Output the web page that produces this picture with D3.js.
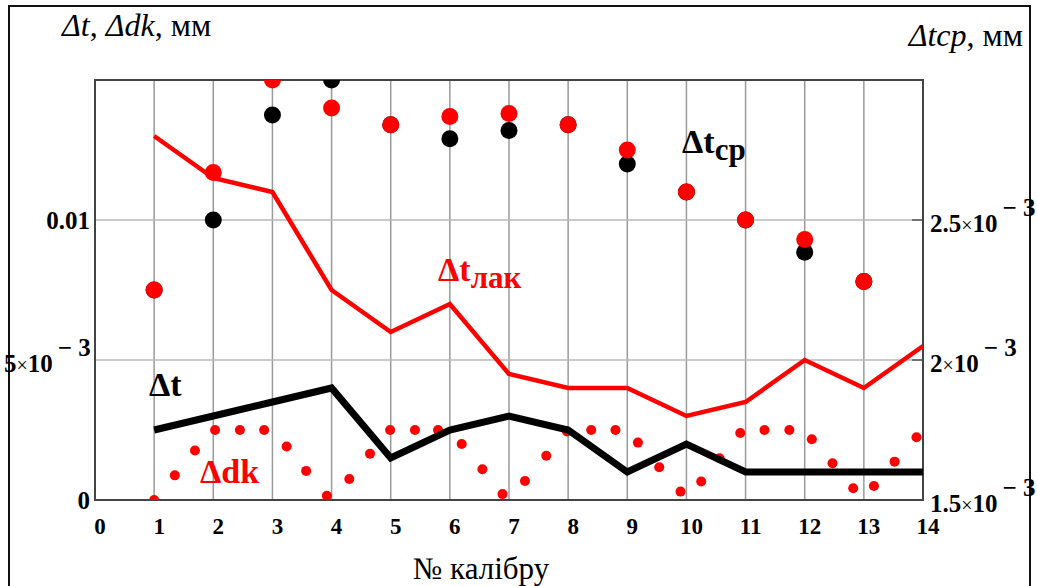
<!DOCTYPE html>
<html>
<head>
<meta charset="utf-8">
<script src="https://cdn.jsdelivr.net/npm/d3@7"></script>
<style>
  body { margin: 0; background: #fff; }
  svg text { font-family: 'Liberation Serif', 'DejaVu Serif', serif; }
</style>
</head>
<body>
<svg width="1037" height="586"></svg>
<script>
// calibre numbers
var calibres = [1, 2, 3, 4, 5, 6, 7, 8, 9, 10, 11, 12, 13, 14];

// left axis, mm
var dt = [0.0025, 0.003, 0.0035, 0.004, 0.0015, 0.0025, 0.003, 0.0025, 0.001, 0.002, 0.001, 0.001, 0.001, 0.001];
var dtLak = [0.013, 0.0115, 0.011, 0.0075, 0.006, 0.007, 0.0045, 0.004, 0.004, 0.003, 0.0035, 0.005, 0.004, 0.0055];

// dk points between calibres
var dkX = [1.0, 1.35, 1.69, 2.03, 2.45, 2.86, 3.24, 3.57, 3.92, 4.30, 4.65, 4.99, 5.41, 5.80, 6.20, 6.55, 6.89, 7.27,
  7.63, 7.98, 8.39, 8.80, 9.18, 9.54, 9.90, 10.25, 10.56, 10.91, 11.32, 11.74, 12.12, 12.47, 12.82, 13.17, 13.52, 13.89];
var dkVal = [0, 0.00088, 0.00177, 0.0025, 0.0025, 0.0025, 0.00191, 0.00104, 0.00015, 0.00075, 0.00165, 0.0025, 0.0025,
  0.0025, 0.002, 0.0011, 0.00021, 0.00068, 0.00158, 0.00245, 0.0025, 0.0025, 0.00205, 0.00117, 0.0003, 0.00066, 0.00149,
  0.00239, 0.0025, 0.0025, 0.00217, 0.00131, 0.00042, 0.0005, 0.00137, 0.00224];

// right axis, mm
var tcpBlack = [0.00225, 0.0025, 0.002875, 0.003, 0.00284, 0.00279, 0.00282, 0.00284, 0.0027, 0.0026, 0.0025, 0.002385, 0.00228, null];
var tcpRed = [0.00225, 0.00267, 0.003, 0.0029, 0.00284, 0.00287, 0.00288, 0.00284, 0.00275, 0.0026, 0.0025, 0.00243, 0.00228, null];

var xTicks = d3.range(0, 15);
var leftTicks = [0, 0.005, 0.01];
var rightTicks = [0.0015, 0.002, 0.0025];

var svg = d3.select('svg');

var plotL = 95, plotR = 923, plotT = 80, plotB = 500;

var x = d3.scaleLinear().domain([0, 14]).range([plotL, plotR]);
var yL = d3.scaleLinear().domain([0, 0.015]).range([plotB, plotT]);
var yR = d3.scaleLinear().domain([0.0015, 0.003]).range([plotB, plotT]);

// outer frame
svg.append('rect')
  .attr('x', 9).attr('y', 6)
  .attr('width', 1021).attr('height', 600)
  .attr('fill', 'none')
  .attr('stroke', '#111')
  .attr('stroke-width', 2);

svg.append('clipPath').attr('id', 'plot')
  .append('rect')
  .attr('x', plotL).attr('y', plotT)
  .attr('width', plotR - plotL).attr('height', plotB - plotT);

// grid
var grid = svg.append('g');
grid.selectAll('.vg')
  .data(xTicks.filter(function(d) { return d > 0 && d < 14; }))
  .enter().append('line')
  .attr('x1', function(d) { return x(d); })
  .attr('x2', function(d) { return x(d); })
  .attr('y1', plotT).attr('y2', plotB)
  .attr('stroke', '#9a9a9a')
  .attr('stroke-width', 1.5);

grid.selectAll('.hg')
  .data(leftTicks.filter(function(d) { return d > 0; }))
  .enter().append('line')
  .attr('x1', plotL).attr('x2', plotR)
  .attr('y1', function(d) { return yL(d); })
  .attr('y2', function(d) { return yL(d); })
  .attr('stroke', '#b8b8b8')
  .attr('stroke-width', 1.5);

// right axis inner ticks
grid.selectAll('.rt')
  .data(rightTicks.filter(function(d) { return d > 0.0015; }))
  .enter().append('line')
  .attr('x1', plotR - 11).attr('x2', plotR)
  .attr('y1', function(d) { return yR(d); })
  .attr('y2', function(d) { return yR(d); })
  .attr('stroke', '#555')
  .attr('stroke-width', 1.5);

svg.append('rect')
  .attr('x', plotL).attr('y', plotT)
  .attr('width', plotR - plotL).attr('height', plotB - plotT)
  .attr('fill', 'none')
  .attr('stroke', '#444')
  .attr('stroke-width', 2);

var marks = svg.append('g').attr('clip-path', 'url(#plot)');

// dk dots
marks.selectAll('.dk')
  .data(dkX)
  .enter().append('circle')
  .attr('cx', function(d) { return x(d); })
  .attr('cy', function(d, i) { return yL(dkVal[i]); })
  .attr('r', 5)
  .attr('fill', '#ff0000');

var line = d3.line()
  .x(function(d, i) { return x(calibres[i]); })
  .y(function(d) { return yL(d); });

marks.append('path')
  .attr('d', line(dtLak))
  .attr('fill', 'none')
  .attr('stroke', '#ff0000')
  .attr('stroke-width', 4.5);

marks.append('path')
  .attr('d', line(dt))
  .attr('fill', 'none')
  .attr('stroke', '#000')
  .attr('stroke-width', 7);

function bigDots(values, colour) {
  marks.append('g').selectAll('circle')
    .data(values)
    .enter().append('circle')
    .filter(function(d) { return d !== null; })
    .attr('cx', function(d, i) { return x(calibres[i]); })
    .attr('cy', function(d) { return yR(d); })
    .attr('r', 8.5)
    .attr('fill', colour);
}

bigDots(tcpBlack, '#000');
bigDots(tcpRed, '#ff0000');

// x tick labels
svg.selectAll('.xl')
  .data(xTicks)
  .enter().append('text')
  .attr('x', function(d) { return x(d) + 5; })
  .attr('y', 534)
  .attr('text-anchor', 'middle')
  .style('font-size', '23px')
  .style('font-weight', 'bold')
  .text(function(d) { return d; });

function sciLabel(g, mant) {
  g.style('font-size', '25px');
  g.append('tspan').style('font-weight', 'bold').text(mant);
  g.append('tspan').style('font-size', '20px').text('\u00d7');
  g.append('tspan').style('font-weight', 'bold').text('10');
  g.append('tspan').attr('dy', -16).style('font-weight', 'bold').text('\u2009\u2212 3');
}

// left labels
svg.selectAll('.yl')
  .data(leftTicks)
  .enter().append('text')
  .attr('x', 90)
  .attr('y', function(d) { return yL(d) + (d === 0.005 ? 12 : 9); })
  .attr('text-anchor', 'end')
  .style('font-size', '25px')
  .each(function(d) {
    var t = d3.select(this);
    if (d === 0.005) {
      t.attr('text-anchor', 'start').attr('x', 4);
      sciLabel(t, '5');
    } else {
      t.style('font-weight', 'bold').text(d === 0 ? '0' : '0.01');
    }
  });

// right labels
svg.selectAll('.yr')
  .data(rightTicks)
  .enter().append('text')
  .attr('x', 930)
  .attr('y', function(d) { return yR(d) + 12; })
  .each(function(d) {
    sciLabel(d3.select(this), d === 0.0015 ? '1.5' : d === 0.002 ? '2' : '2.5');
  });

// axis titles
var tl = svg.append('text')
  .attr('x', 62).attr('y', 36)
  .style('font-size', '32px');
tl.append('tspan').style('font-style', 'italic').text('\u0394t');
tl.append('tspan').text(', ');
tl.append('tspan').style('font-style', 'italic').text('\u0394dk');
tl.append('tspan').text(', мм');

var tr = svg.append('text')
  .attr('x', 1023).attr('y', 46)
  .attr('text-anchor', 'end')
  .style('font-size', '32px');
tr.append('tspan').style('font-style', 'italic').text('\u0394tcp');
tr.append('tspan').text(', мм');

svg.append('text')
  .attr('x', 481).attr('y', 579)
  .attr('text-anchor', 'middle')
  .style('font-size', '31px')
  .text('№ калібру');

// series labels
function seriesLabel(px, py, main, sub, colour) {
  var t = svg.append('text')
    .attr('x', px).attr('y', py)
    .attr('fill', colour)
    .style('font-weight', 'bold')
    .style('font-size', '34px');
  t.append('tspan').text(main);
  if (sub) {
    t.append('tspan').attr('dy', 7).style('font-size', '31px').text(sub);
  }
}

seriesLabel(149, 396, '\u0394t', null, '#000');
seriesLabel(200, 483, '\u0394dk', null, '#ff0000');
seriesLabel(438, 281, '\u0394t', 'лак', '#ff0000');
seriesLabel(682, 153, '\u0394t', 'cp', '#000');
</script>
</body>
</html>
